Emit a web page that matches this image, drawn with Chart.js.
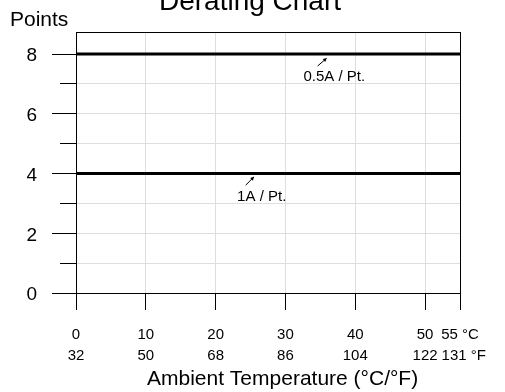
<!DOCTYPE html>
<html>
<head>
<meta charset="utf-8">
<title>Derating Chart</title>
<script src="https://cdn.jsdelivr.net/npm/chart.js@4.4.1/dist/chart.umd.min.js"></script>
<style>
  html, body { margin: 0; padding: 0; background: #fff; }
  #chart { display: block; }
</style>
</head>
<body>
<canvas id="chart" width="505" height="392"></canvas>
<script>
// temperature axis (°C ticks, °F shown underneath)
const celsiusTicks = [0, 10, 20, 30, 40, 50, 55];
const celsiusLabels = ['0', '10', '20', '30', '40', '50', '55 °C'];
// en space in front of the last label keeps it clear of "122"
const fahrenheitLabels = ['32', '50', '68', '86', '104', '122', '\u2002131 °F'];
const tempRange = [0, 55];

// points axis
const yMajorTicks = [0, 2, 4, 6, 8];
const yMinorTicks = [1, 3, 5, 7];
const yMax = 8.74;

// derating lines, flat over the whole range
const ratingNames = ['0.5A / Pt.', '1A / Pt.'];
const ratingPoints = [8, 4];

// note labels and their little arrows, in data units
const noteX = [37, 26.6];
const noteY = [7.23, 3.23];
const arrowFromX = [34.6, 24.3];
const arrowFromY = [7.6, 3.61];
const arrowToX = [35.9, 25.5];
const arrowToY = [7.86, 3.89];

const FONT = "'Liberation Sans', Arial, Helvetica, sans-serif";
const GRID = '#dedede';

const extras = {
  id: 'extras',
  afterDraw(chart) {
    const { ctx, chartArea: a, scales: { x, y } } = chart;
    ctx.save();
    ctx.strokeStyle = '#000';
    ctx.fillStyle = '#000';
    ctx.lineWidth = 1;

    // top edge of the frame
    ctx.beginPath();
    ctx.moveTo(a.left, Math.round(a.top) + 0.5);
    ctx.lineTo(Math.round(a.right) + 0.5, Math.round(a.top) + 0.5);
    ctx.stroke();

    // short minor ticks on the y axis
    yMinorTicks.forEach(v => {
      const py = Math.round(y.getPixelForValue(v) - 0.5) + 0.5;
      ctx.beginPath();
      ctx.moveTo(a.left - 16, py);
      ctx.lineTo(a.left, py);
      ctx.stroke();
    });

    // notes with arrows
    ratingNames.forEach((name, i) => {
      const x0 = x.getPixelForValue(arrowFromX[i]);
      const y0 = y.getPixelForValue(arrowFromY[i]);
      const x1 = x.getPixelForValue(arrowToX[i]);
      const y1 = y.getPixelForValue(arrowToY[i]);
      ctx.beginPath();
      ctx.moveTo(x0, y0);
      ctx.lineTo(x1, y1);
      ctx.stroke();
      const ang = Math.atan2(y1 - y0, x1 - x0);
      ctx.beginPath();
      ctx.moveTo(x1, y1);
      ctx.lineTo(x1 - 4 * Math.cos(ang - 0.5), y1 - 4 * Math.sin(ang - 0.5));
      ctx.lineTo(x1 - 4 * Math.cos(ang + 0.5), y1 - 4 * Math.sin(ang + 0.5));
      ctx.closePath();
      ctx.fill();

      ctx.font = '15px ' + FONT;
      ctx.textAlign = 'center';
      ctx.textBaseline = 'middle';
      ctx.fillText(name, x.getPixelForValue(noteX[i]), y.getPixelForValue(noteY[i]));
    });

    // chart title (runs off the top edge) and y axis caption
    ctx.textBaseline = 'alphabetic';
    ctx.textAlign = 'center';
    ctx.font = '28px ' + FONT;
    ctx.fillText('Derating Chart', 250, 10);
    ctx.textAlign = 'left';
    ctx.font = '21px ' + FONT;
    ctx.fillText('Points', 10, 26);
    ctx.restore();
  }
};

new Chart(document.getElementById('chart'), {
  type: 'line',
  data: {
    datasets: ratingNames.map((name, i) => ({
      label: name,
      data: tempRange.map(t => ({ x: t, y: ratingPoints[i] })),
      borderColor: '#000',
      borderWidth: 3,
      borderCapStyle: 'butt',
      pointRadius: 0,
      fill: false
    }))
  },
  options: {
    responsive: false,
    animation: false,
    devicePixelRatio: 1,
    layout: { padding: { top: 32, right: 45, bottom: 0, left: 0 } },
    plugins: {
      legend: { display: false },
      tooltip: { enabled: false }
    },
    scales: {
      x: {
        type: 'linear',
        min: tempRange[0],
        max: tempRange[1],
        afterBuildTicks: axis => { axis.ticks = celsiusTicks.map(v => ({ value: v })); },
        afterFit: scale => { scale.height = 99; },
        grid: {
          color: ctx => (ctx.tick && (ctx.tick.value === 0 || ctx.tick.value === 55)) ? '#000' : GRID,
          tickColor: '#000',
          tickLength: 17,
          lineWidth: 1
        },
        border: { display: true, color: '#000', width: 1 },
        ticks: {
          autoSkip: false,
          maxRotation: 0,
          padding: 14,
          color: '#000',
          font: { family: FONT, size: 15, lineHeight: 1.4 },
          callback: (v, i) => [celsiusLabels[i], fahrenheitLabels[i]]
        },
        title: {
          display: true,
          // leading spaces push the caption a bit right of the plot centre, as in the original
          text: '\u00a0\u00a0\u00a0\u00a0\u00a0Ambient Temperature (°C/°F)',
          color: '#000',
          font: { family: FONT, size: 21, lineHeight: 1.2 },
          padding: { top: 0, bottom: 0 }
        }
      },
      y: {
        min: 0,
        max: yMax,
        afterBuildTicks: axis => {
          axis.ticks = [...yMajorTicks, ...yMinorTicks].sort((a, b) => a - b).map(v => ({ value: v }));
        },
        afterFit: scale => { scale.width = 76; },
        grid: {
          color: ctx => (ctx.tick && ctx.tick.value === 0) ? '#000' : GRID,
          tickColor: ctx => (ctx.tick && yMajorTicks.includes(ctx.tick.value)) ? '#000' : 'rgba(0,0,0,0)',
          tickLength: 24,
          lineWidth: 1
        },
        border: { display: true, color: '#000', width: 1 },
        ticks: {
          padding: 15,
          labelOffset: 2,
          color: '#000',
          font: { family: FONT, size: 19 },
          callback: v => yMajorTicks.includes(v) ? String(v) : ''
        }
      }
    }
  },
  plugins: [extras]
});
</script>
</body>
</html>
